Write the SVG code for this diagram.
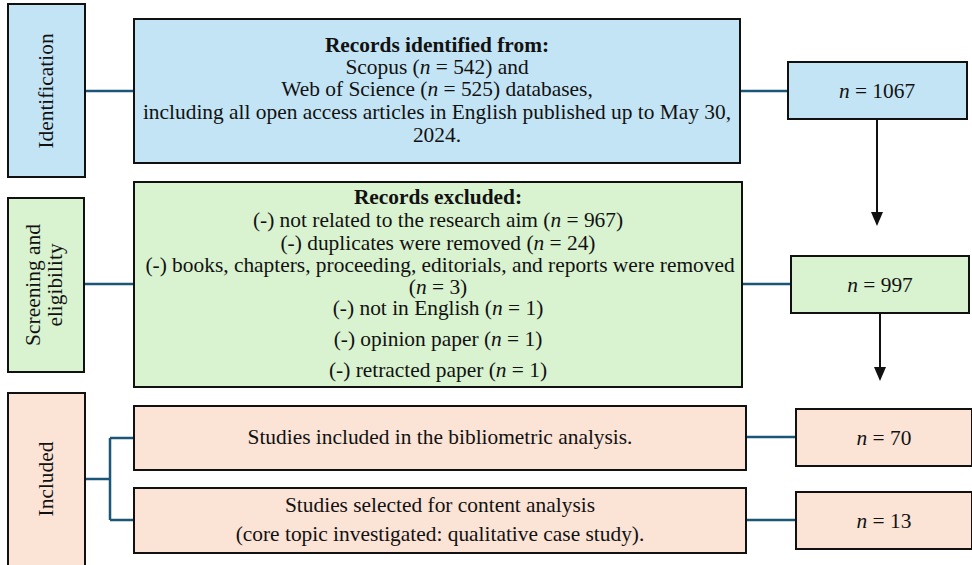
<svg xmlns="http://www.w3.org/2000/svg" width="972" height="565" viewBox="0 0 972 565">
  <style>
    text { font-family: "Liberation Serif", "Times New Roman", serif; font-size: 21.4px; fill: #111; text-anchor: middle; }
    .b { font-weight: bold; }
    .i { font-style: italic; }
    .box { stroke: #111; stroke-width: 2; }
    .blue { fill: #C3E4F4; }
    .green { fill: #D9F2D0; }
    .pink { fill: #FBE3D6; }
    .link { fill: none; stroke: #1B5577; stroke-width: 2.5; }
    .arrow { fill: none; stroke: #111; stroke-width: 2; }
  </style>

  <!-- connectors -->
  <g id="connectors">
    <path class="link" d="M85,91 H134"/>
    <path class="link" d="M740,91 H788"/>
    <path class="link" d="M84,284 H134"/>
    <path class="link" d="M742,284 H791"/>
    <path class="link" d="M85,479 H110 M110,438 V520 M110,438 H134 M110,520 H134"/>
    <path class="link" d="M746,437 H796"/>
    <path class="link" d="M746,520 H796"/>
    <path class="arrow" d="M877,119 V214"/>
    <path d="M871,212 L883,212 L877,226 z" fill="#111"/>
    <path class="arrow" d="M880,313 V369"/>
    <path d="M874,367 L886,367 L880,381 z" fill="#111"/>
  </g>

  <!-- stage labels -->
  <g id="stage-identification">
    <rect class="box blue" x="8" y="4" width="77" height="173"/>
    <text transform="translate(53,91) rotate(-90)">Identification</text>
  </g>
  <g id="stage-screening">
    <rect class="box green" x="8" y="198" width="76" height="174"/>
    <text transform="translate(40,285) rotate(-90)">Screening and</text>
    <text transform="translate(62,285) rotate(-90)">eligibility</text>
  </g>
  <g id="stage-included">
    <rect class="box pink" x="8" y="393" width="77" height="174"/>
    <text transform="translate(53,479) rotate(-90)">Included</text>
  </g>

  <!-- identification -->
  <g id="records-identified">
    <rect class="box blue" x="134" y="19" width="606" height="144"/>
    <text x="437" y="52" class="b">Records identified from:</text>
    <text x="437" y="74">Scopus (<tspan class="i">n</tspan> = 542) and</text>
    <text x="437" y="96">Web of Science (<tspan class="i">n</tspan> = 525) databases,</text>
    <text x="437" y="119">including all open access articles in English published up to May 30,</text>
    <text x="437" y="142">2024.</text>
  </g>
  <g id="count-1067">
    <rect class="box blue" x="788" y="62" width="179" height="57"/>
    <text x="877" y="98"><tspan class="i">n</tspan> = 1067</text>
  </g>

  <!-- screening -->
  <g id="records-excluded">
    <rect class="box green" x="134" y="182" width="608" height="205"/>
    <text x="438" y="204" class="b">Records excluded:</text>
    <text x="438" y="227">(-) not related to the research aim (<tspan class="i">n</tspan> = 967)</text>
    <text x="438" y="250">(-) duplicates were removed (<tspan class="i">n</tspan> = 24)</text>
    <text x="440" y="272">(-) books, chapters, proceeding, editorials, and reports were removed</text>
    <text x="438" y="294">(<tspan class="i">n</tspan> = 3)</text>
    <text x="438" y="315">(-) not in English (<tspan class="i">n</tspan> = 1)</text>
    <text x="438" y="346">(-) opinion paper (<tspan class="i">n</tspan> = 1)</text>
    <text x="438" y="377">(-) retracted paper (<tspan class="i">n</tspan> = 1)</text>
  </g>
  <g id="count-997">
    <rect class="box green" x="791" y="256" width="178" height="57"/>
    <text x="880" y="292"><tspan class="i">n</tspan> = 997</text>
  </g>

  <!-- included -->
  <g id="bibliometric">
    <rect class="box pink" x="134" y="406" width="612" height="64"/>
    <text x="440" y="444">Studies included in the bibliometric analysis.</text>
  </g>
  <g id="content-analysis">
    <rect class="box pink" x="134" y="488" width="612" height="65"/>
    <text x="440" y="512">Studies selected for content analysis</text>
    <text x="440" y="541">(core topic investigated: qualitative case study).</text>
  </g>
  <g id="count-70">
    <rect class="box pink" x="796" y="409" width="176" height="57"/>
    <text x="884" y="445"><tspan class="i">n</tspan> = 70</text>
  </g>
  <g id="count-13">
    <rect class="box pink" x="796" y="492" width="176" height="57"/>
    <text x="884" y="528"><tspan class="i">n</tspan> = 13</text>
  </g>
</svg>
